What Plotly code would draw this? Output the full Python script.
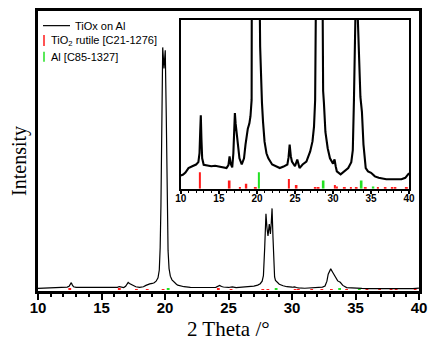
import plotly.graph_objects as go

# XRD pattern, TiOx on Al (intensity in arbitrary units)
two_theta = [10.0, 10.3, 10.6, 11.0, 11.5, 12.0, 12.3, 12.45, 12.55, 12.62, 12.7, 12.8, 13.0, 13.5,
             14.0, 14.5, 15.0, 15.5, 16.0, 16.25, 16.4, 16.55, 16.75, 16.9, 17.0, 17.1, 17.2, 17.35,
             17.5, 17.7, 18.0, 18.3, 18.5, 18.65, 18.8, 19.0, 19.15, 19.3, 19.45, 19.55, 19.62, 19.68,
             19.75, 19.82, 19.92, 20.02, 20.1, 20.17, 20.24, 20.32, 20.42, 20.55, 20.66, 20.8, 20.9,
             21.0, 21.25, 21.5, 22.0, 22.5, 23.0, 23.5, 24.0, 24.15, 24.3, 24.45, 24.6, 25.0, 25.3,
             25.6, 26.0, 26.5, 27.0, 27.3, 27.5, 27.65, 27.75, 27.85, 27.95, 28.03, 28.11, 28.21,
             28.3, 28.37, 28.43, 28.5, 28.57, 28.63, 28.7, 28.8, 28.9, 29.0, 29.3, 29.6, 30.0, 30.2,
             30.35, 30.5, 31.0, 31.5, 32.0, 32.4, 32.6, 32.75, 32.85, 32.95, 33.05, 33.2, 33.4, 33.6,
             33.8, 34.0, 34.3, 34.6, 35.0, 35.5, 36.0, 37.0, 38.0, 39.0, 39.5, 40.0]
intensity = [4.5, 4.8, 5.5, 7.0, 7.6, 8.2, 9.0, 12, 20, 24.8, 17, 10.3, 8.1, 7.8,
             7.6, 7.8, 7.6, 7.3, 7.0, 8.0, 10.9, 8.5, 7.2, 12, 20, 25.6, 22, 18.2,
             13, 10.3, 8.2, 10.3, 15, 18.5, 20.3, 22, 24.5, 30, 42, 70, 150, 300,
             620, 865, 790, 855, 620, 300, 140, 75, 48, 35, 29, 22.6, 19,
             15.9, 12, 10.3, 8.2, 7.5, 7.0, 7.5, 8.2, 10.5, 14.9, 11, 9.2, 7.6, 9.9,
             7.0, 8.2, 9.2, 12.6, 16, 21, 30, 50, 150, 271, 220, 192, 234,
             199, 240, 290, 190, 90, 45, 33, 29.2, 24, 19.2, 13.7, 10.3, 8.5, 9.9,
             7.6, 5.9, 4.9, 5.9, 7.0, 9.0, 13, 30, 55, 68, 74, 62, 45, 31,
             26, 15, 7.0, 5.9, 5.4, 4.2, 3.7, 3.2, 3.2, 3.2, 3.7, 5.3]

# reference patterns (stick positions / relative heights)
rutile_pos = [12.5, 16.4, 17.75, 18.6, 19.85, 24.2, 25.2, 27.7, 28.1, 30.25, 30.5, 31.55,
              32.35, 33.1, 34.3, 35.9, 36.9, 37.8, 38.2, 39.7]
rutile_int = [5.6, 2.8, 0.6, 1.7, 0.4, 3.3, 1.3, 0.6, 0.6, 1.3, 0.8, 0.3,
              0.3, 0.3, 0.3, 0.4, 0.3, 0.4, 0.3, 0.3]
al_pos = [20.25, 28.75, 33.75, 35.3]
al_int = [5.6, 2.8, 2.8, 0.8]

x_ticks = [10, 15, 20, 25, 30, 35, 40]

RED = '#ff1a1a'
GREEN = '#22e022'

fig = go.Figure()

# main pattern
fig.add_trace(go.Scatter(x=two_theta, y=intensity, mode='lines',
                         line=dict(color='black', width=1.2), xaxis='x', yaxis='y'))
fig.add_trace(go.Bar(x=rutile_pos, y=rutile_int, width=0.22, marker_color=RED,
                     marker_line_width=0, xaxis='x', yaxis='y'))
fig.add_trace(go.Bar(x=al_pos, y=al_int, width=0.22, marker_color=GREEN,
                     marker_line_width=0, xaxis='x', yaxis='y'))

# inset (zoom on baseline)
fig.add_trace(go.Scatter(x=two_theta, y=intensity, mode='lines',
                         line=dict(color='black', width=2.1), xaxis='x2', yaxis='y2'))
fig.add_trace(go.Bar(x=rutile_pos, y=rutile_int, width=0.25, marker_color=RED,
                     marker_line_width=0, xaxis='x2', yaxis='y2'))
fig.add_trace(go.Bar(x=al_pos, y=al_int, width=0.25, marker_color=GREEN,
                     marker_line_width=0, xaxis='x2', yaxis='y2'))

main_tick_font = dict(family='Liberation Sans', size=15, color='black', weight='bold')
inset_tick_font = dict(family='Liberation Sans', size=10, color='black', weight='bold')

# page body adds 8px around the figure, margins are shifted to make up for it
fig.update_layout(
    width=436, height=341,
    margin=dict(l=30, r=25, t=0, b=58),
    paper_bgcolor='white', plot_bgcolor='white',
    showlegend=False, barmode='overlay',
    xaxis=dict(domain=[0, 1], range=[10, 40], anchor='y',
               tickvals=x_ticks, ticks='outside', ticklen=6, tickwidth=2, tickcolor='black',
               minor=dict(dtick=1, ticks='outside', ticklen=3, tickwidth=2, tickcolor='black'),
               showline=True, linewidth=3, linecolor='black', mirror=True,
               showgrid=False, zeroline=False, tickfont=main_tick_font,
               ticklabelstandoff=-5),
    yaxis=dict(domain=[0, 1], range=[-5, 995], anchor='x',
               showticklabels=False, ticks='',
               showline=True, linewidth=3, linecolor='black', mirror=True,
               showgrid=False, zeroline=False),
    xaxis2=dict(domain=[0.375, 0.974], range=[10, 40], anchor='y2',
                tickvals=x_ticks, ticks='outside', ticklen=3, tickwidth=1.5, tickcolor='black',
                minor=dict(dtick=1, ticks='outside', ticklen=2, tickwidth=1, tickcolor='black'),
                showline=True, linewidth=1.5, linecolor='black', mirror=True,
                showgrid=False, zeroline=False, tickfont=inset_tick_font,
                ticklabelstandoff=-4),
    yaxis2=dict(domain=[0.365, 0.968], range=[0, 57], anchor='x2',
                showticklabels=False, ticks='',
                showline=True, linewidth=1.5, linecolor='black', mirror=True,
                showgrid=False, zeroline=False),
)

# axis titles
fig.add_annotation(text='2 Theta /°', xref='paper', yref='paper', x=0.5, y=-0.135,
                   xanchor='center', yanchor='middle', showarrow=False,
                   font=dict(family='Liberation Serif', size=21, color='black'))
fig.add_annotation(text='Intensity', xref='paper', yref='paper', x=-0.047, y=0.465,
                   xanchor='center', yanchor='middle', textangle=-90, showarrow=False,
                   font=dict(family='Liberation Serif', size=20, color='black'))

# legend, drawn by hand so the sticks look like the reference marks
leg_font = dict(family='Liberation Sans', size=11, color='black')
fig.add_shape(type='line', xref='paper', yref='paper', x0=(43 - 38) / 381, x1=(70 - 38) / 381,
              y0=(290.7 - 22.5) / 283, y1=(290.7 - 22.5) / 283, line=dict(color='black', width=1.2))
fig.add_shape(type='line', xref='paper', yref='paper', x0=(44 - 38) / 381, x1=(44 - 38) / 381,
              y0=(290.7 - 32) / 283, y1=(290.7 - 43) / 283, line=dict(color=RED, width=1.5))
fig.add_shape(type='line', xref='paper', yref='paper', x0=(44 - 38) / 381, x1=(44 - 38) / 381,
              y0=(290.7 - 49) / 283, y1=(290.7 - 59) / 283, line=dict(color=GREEN, width=1.5))
legend_rows = [('TiOx on Al', 73, 22.5),
               ('TiO<sub>2</sub> rutile [C21-1276]', 49, 38),
               ('Al [C85-1327]', 49, 54.3)]
for txt, px, py in legend_rows:
    fig.add_annotation(text=txt, xref='paper', yref='paper', x=(px - 38) / 381,
                       y=(290.7 - py) / 283, xanchor='left', yanchor='middle',
                       showarrow=False, font=leg_font)

fig.write_html("out.html")
